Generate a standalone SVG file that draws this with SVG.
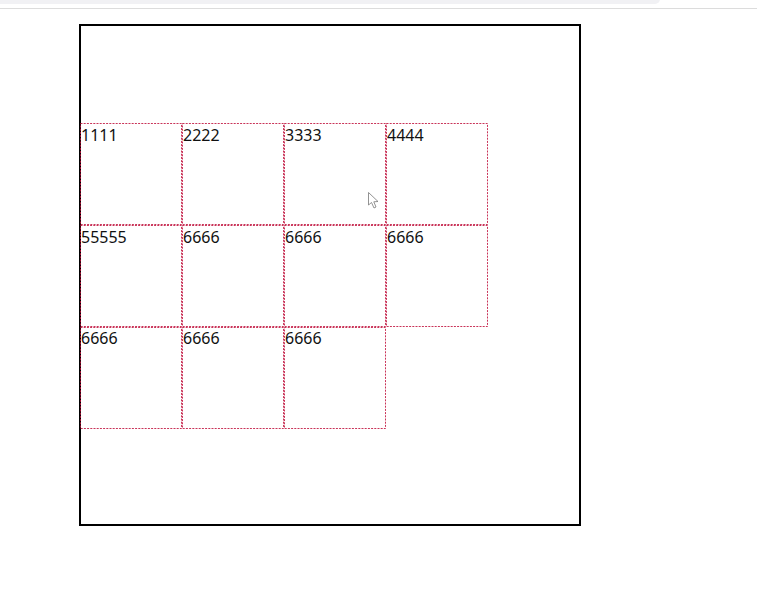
<svg xmlns="http://www.w3.org/2000/svg" width="759" height="609" viewBox="0 0 759 609">
<style>
.cell rect{fill:none;stroke:#c0103c;stroke-opacity:0.85;stroke-width:1;stroke-dasharray:2 1.2;}
.cell text{font-family:"Noto Sans","Open Sans",sans-serif;font-size:16px;fill:#111;}
</style>
<rect x="0" y="0" width="759" height="609" fill="#fff"/>
<rect x="-10" y="-6" width="670" height="10" rx="5" fill="#f1f1f4"/>
<line x1="0" y1="8.5" x2="757" y2="8.5" stroke="#dcdcdc" stroke-width="1"/>
<g id="container"><rect x="80" y="25" width="500" height="500" fill="none" stroke="#000" stroke-width="2"/></g>
<g id="c1" class="cell"><rect x="80.5" y="123.5" width="101" height="101"/><text x="81" y="141">1111</text></g>
<g id="c2" class="cell"><rect x="182.5" y="123.5" width="101" height="101"/><text x="183" y="141">2222</text></g>
<g id="c3" class="cell"><rect x="284.5" y="123.5" width="101" height="101"/><text x="285" y="141">3333</text></g>
<g id="c4" class="cell"><rect x="386.5" y="123.5" width="101" height="101"/><text x="387" y="141">4444</text></g>
<g id="c5" class="cell"><rect x="80.5" y="225.5" width="101" height="101"/><text x="81" y="243">55555</text></g>
<g id="c6" class="cell"><rect x="182.5" y="225.5" width="101" height="101"/><text x="183" y="243">6666</text></g>
<g id="c7" class="cell"><rect x="284.5" y="225.5" width="101" height="101"/><text x="285" y="243">6666</text></g>
<g id="c8" class="cell"><rect x="386.5" y="225.5" width="101" height="101"/><text x="387" y="243">6666</text></g>
<g id="c9" class="cell"><rect x="80.5" y="327.5" width="101" height="101"/><text x="81" y="344">6666</text></g>
<g id="c10" class="cell"><rect x="182.5" y="327.5" width="101" height="101"/><text x="183" y="344">6666</text></g>
<g id="c11" class="cell"><rect x="284.5" y="327.5" width="101" height="101"/><text x="285" y="344">6666</text></g>
<g id="connectors"></g>
<path d="M368.5 192.5 L368.5 205 L371.5 202.5 L374 208 L376 207 L373.8 201.8 L378 201.5 Z" fill="#fff" stroke="#777" stroke-width="0.8"/>
</svg>
